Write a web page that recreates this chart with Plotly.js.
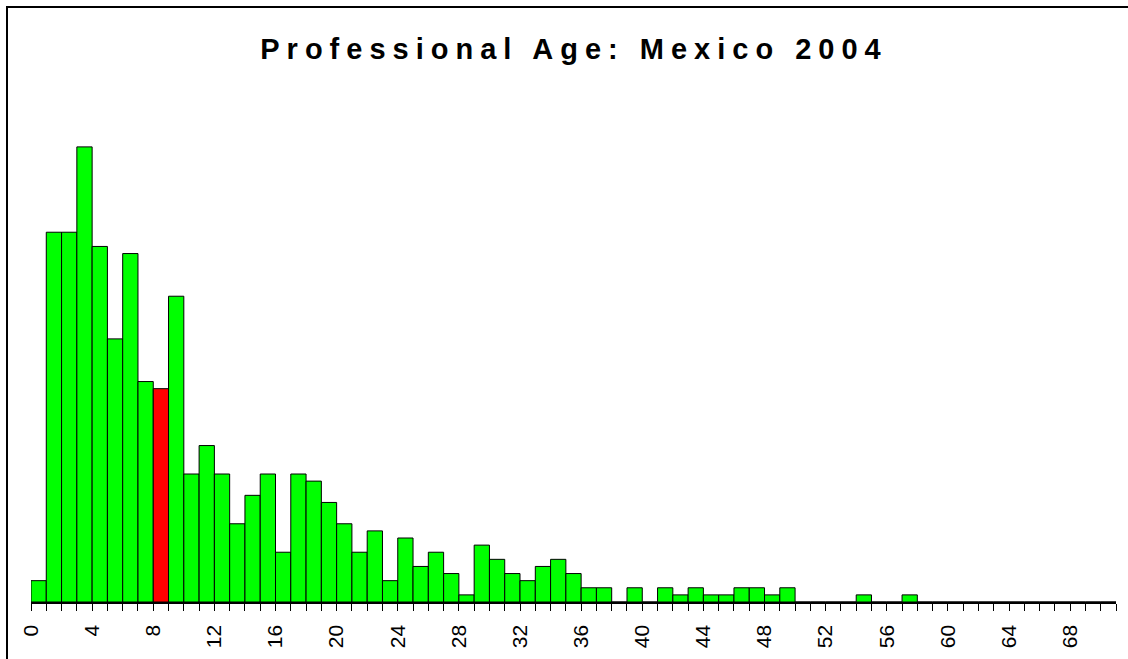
<!DOCTYPE html>
<html>
<head>
<meta charset="utf-8">
<script src="https://cdn.plot.ly/plotly-3.0.1.min.js"></script>
<style>
  html, body { margin: 0; padding: 0; background: #fff; overflow: hidden; }
  #chart { width: 1128px; height: 659px; position: absolute; left: 0; top: 0; }
  #frame { position: absolute; left: 6px; top: 6px; width: 1300px; height: 900px;
           border-top: 2px solid #000; border-left: 2px solid #000; pointer-events: none; }
  .gtitle { letter-spacing: 7px; }
</style>
</head>
<body>
<div id="chart"></div>
<div id="frame"></div>
<script>
// Professional age (years) and number of people
const ages = [0,1,2,3,4,5,6,7,8,9,10,11,12,13,14,15,16,17,18,19,20,21,22,23,24,25,26,27,28,29,30,31,32,33,34,35,36,37,38,39,40,41,42,43,44,45,46,47,48,49,50,51,52,53,54,55,56,57,58,59,60,61,62,63,64,65,66,67,68,69,70];
const counts = [3,52,52,64,50,37,49,31,30,43,18,22,18,11,15,18,7,18,17,14,11,7,10,3,9,5,7,4,1,8,6,4,3,5,6,4,2,2,0,2,0,2,1,2,1,1,2,2,1,2,0,0,0,0,1,0,0,1,0,0,0,0,0,0,0,0,0,0,0,0,0];
const highlightAge = 8;
const tickValues = [0,4,8,12,16,20,24,28,32,36,40,44,48,52,56,60,64,68];
const tickLabels = ["0","4","8","12","16","20","24","28","32","36","40","44","48","52","56","60","64","68"];
const titleText = "Professional Age: Mexico 2004";

const colors = ages.map(a => a === highlightAge ? '#FF0000' : '#00FF00');

const trace = {
  type: 'bar',
  x: ages,
  y: counts,
  width: 1,
  offset: 0,
  marker: { color: colors, line: { color: '#000000', width: 1 } },
  hoverinfo: 'x+y'
};

const layout = {
  width: 1128,
  height: 659,
  margin: { l: 31, r: 12, t: 90, b: 57 },
  paper_bgcolor: 'rgba(0,0,0,0)',
  plot_bgcolor: 'rgba(0,0,0,0)',
  showlegend: false,
  bargap: 0,
  font: { family: 'Arial, "Liberation Sans", sans-serif', color: '#000' },
  title: {
    text: '<b>' + titleText + '</b>',
    font: { size: 29, family: 'Arial, "Liberation Sans", sans-serif', color: '#000' },
    xref: 'container', yref: 'container',
    x: 574 / 1128, xanchor: 'center',
    y: 1 - 49 / 659, yanchor: 'middle'
  },
  xaxis: {
    range: [0, 71],
    showgrid: false,
    zeroline: false,
    showline: true,
    linecolor: '#000',
    linewidth: 1.5,
    ticks: 'outside',
    ticklen: 7,
    tickwidth: 1,
    tickcolor: '#000',
    tickvals: tickValues,
    ticktext: tickLabels,
    tickangle: -90,
    ticklabelstandoff: 6,
    tickfont: { size: 21, family: 'Arial, "Liberation Sans", sans-serif', color: '#000' },
    minor: { dtick: 1, tick0: 0, ticks: 'outside', ticklen: 7, tickwidth: 1, tickcolor: '#000', showgrid: false },
    fixedrange: true
  },
  yaxis: {
    range: [0, 72],
    visible: false,
    fixedrange: true
  }
};

Plotly.newPlot('chart', [trace], layout, { displayModeBar: false, staticPlot: true });
</script>
</body>
</html>
